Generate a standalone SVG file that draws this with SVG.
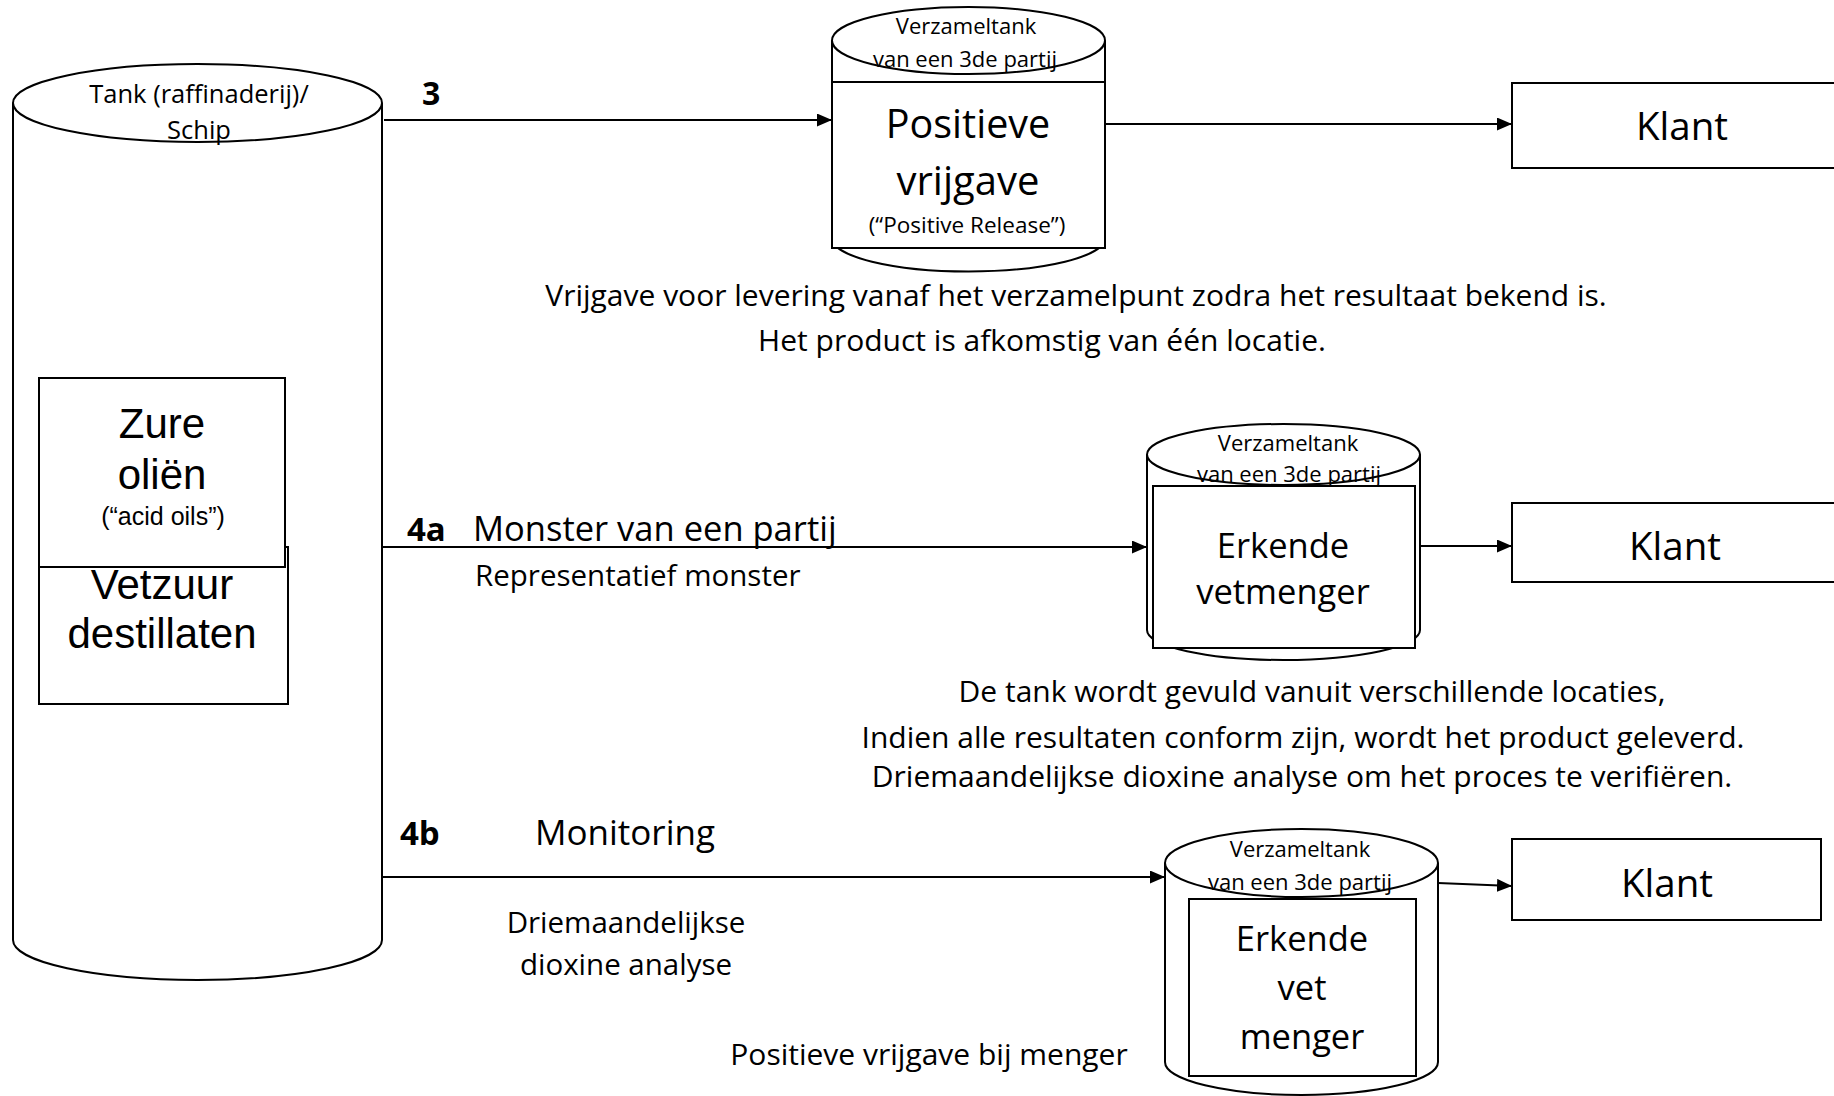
<svg xmlns="http://www.w3.org/2000/svg" width="1834" height="1096" viewBox="0 0 1834 1096">
<defs>
<style>
.s{fill:#fff;stroke:#000;stroke-width:2}
.n{fill:none;stroke:#000;stroke-width:2}
.c{stroke:#000;stroke-width:2;fill:none}
text{font-family:"Open Sans","Noto Sans",sans-serif;fill:#000}
.m{text-anchor:middle}
.b{font-weight:bold}
.ar{font-family:"Liberation Sans",Arial,sans-serif}
</style>
<marker id="ah" markerUnits="userSpaceOnUse" markerWidth="16" markerHeight="14" refX="15" refY="6.5" orient="auto">
<path d="M0,0 L15,6.5 L0,13 Z" fill="#000"/>
</marker>
</defs>
<rect width="1834" height="1096" fill="#fff"/>

<g id="tank-raffinaderij">
<path class="s" d="M13,103 L13,940 A184.5,40 0 0 0 382,940 L382,103"/>
<ellipse class="s" cx="197.5" cy="103" rx="184.5" ry="39"/>
<text class="m" x="199" y="103" font-size="25.5">Tank (raffinaderij)/</text>
<text class="m" x="199" y="139" font-size="25.5">Schip</text>
</g>

<g id="vetzuur-destillaten">
<rect class="s" x="39" y="547" width="249" height="157"/>
<text class="m ar" x="162" y="599" font-size="42">Vetzuur</text>
<text class="m ar" x="162" y="648" font-size="42">destillaten</text>
</g>

<g id="zure-olien">
<rect class="s" x="39" y="378" width="246" height="189"/>
<text class="m ar" x="162" y="438" font-size="42">Zure</text>
<text class="m ar" x="162" y="489" font-size="42">oliën</text>
<text class="m ar" x="163" y="525" font-size="25">(“acid oils”)</text>
</g>

<g id="positieve-vrijgave">
<path class="s" d="M832,40.5 L832,238 A136.5,33.5 0 0 0 1105,238 L1105,40.5"/>
<ellipse class="s" cx="968.5" cy="40.5" rx="136.5" ry="33.5"/>
<text class="m" x="966" y="34" font-size="22">Verzameltank</text>
<text class="m" x="965" y="67" font-size="22">van een 3de partij</text>
<rect class="s" x="832" y="82" width="273" height="166"/>
<text class="m" x="968" y="138" font-size="39.5">Positieve</text>
<text class="m" x="968" y="195" font-size="40">vrijgave</text>
<text class="m" x="967" y="233" font-size="22.5">(“Positive Release”)</text>
</g>

<g id="erkende-vetmenger">
<path class="s" d="M1147,454.5 L1147,630 A136.5,30 0 0 0 1420,630 L1420,454.5"/>
<ellipse class="s" cx="1283.5" cy="454.5" rx="136.5" ry="30.5"/>
<text class="m" x="1288" y="451" font-size="22">Verzameltank</text>
<text class="m" x="1289" y="482" font-size="22">van een 3de partij</text>
<rect class="s" x="1153" y="486" width="262" height="162"/>
<text class="m" x="1283" y="558" font-size="34.5">Erkende</text>
<text class="m" x="1283" y="604" font-size="34.5">vetmenger</text>
</g>

<g id="erkende-vet-menger">
<path class="s" d="M1165,863 L1165,1062 A136.5,33 0 0 0 1438,1062 L1438,863"/>
<ellipse class="s" cx="1301.5" cy="863" rx="136.5" ry="34"/>
<text class="m" x="1300" y="857" font-size="22">Verzameltank</text>
<text class="m" x="1300" y="890" font-size="22">van een 3de partij</text>
<rect class="s" x="1189" y="899" width="227" height="177"/>
<text class="m" x="1302" y="951" font-size="34.5">Erkende</text>
<text class="m" x="1302" y="1000" font-size="34.5">vet</text>
<text class="m" x="1302" y="1049" font-size="34.5">menger</text>
</g>

<g id="klant-1">
<rect class="s" x="1512" y="83" width="340" height="85"/>
<text class="m" x="1682" y="140" font-size="38.5">Klant</text>
</g>
<g id="klant-2">
<rect class="s" x="1512" y="503" width="340" height="79"/>
<text class="m" x="1675" y="560" font-size="38.5">Klant</text>
</g>
<g id="klant-3">
<rect class="s" x="1512" y="839" width="309" height="81"/>
<text class="m" x="1667" y="897" font-size="38.5">Klant</text>
</g>

<g id="connectors">
<line class="c" x1="384" y1="120" x2="832" y2="120" marker-end="url(#ah)"/>
<line class="c" x1="1105" y1="124" x2="1512" y2="124" marker-end="url(#ah)"/>
<line class="c" x1="383" y1="547" x2="1147" y2="547" marker-end="url(#ah)"/>
<line class="c" x1="1420" y1="546" x2="1512" y2="546" marker-end="url(#ah)"/>
<line class="c" x1="383" y1="877" x2="1165" y2="877" marker-end="url(#ah)"/>
<line class="c" x1="1438" y1="883" x2="1512" y2="886" marker-end="url(#ah)"/>
</g>

<g id="labels">
<text class="b" x="422" y="105" font-size="32">3</text>
<text class="b" x="407" y="541" font-size="33">4a</text>
<text x="473" y="541" font-size="34.5">Monster van een partij</text>
<text x="475" y="586" font-size="29.5">Representatief monster</text>
<text class="b" x="400" y="845" font-size="33">4b</text>
<text x="535" y="845" font-size="35">Monitoring</text>
<text class="m" x="626" y="933" font-size="29.5">Driemaandelijkse</text>
<text class="m" x="626" y="975" font-size="29.5">dioxine analyse</text>
<text class="m" x="1076" y="306" font-size="30">Vrijgave voor levering vanaf het verzamelpunt zodra het resultaat bekend is.</text>
<text class="m" x="1042" y="351" font-size="30">Het product is afkomstig van één locatie.</text>
<text class="m" x="1312" y="702" font-size="30">De tank wordt gevuld vanuit verschillende locaties,</text>
<text class="m" x="1303" y="748" font-size="30">Indien alle resultaten conform zijn, wordt het product geleverd.</text>
<text class="m" x="1302" y="787" font-size="30">Driemaandelijkse dioxine analyse om het proces te verifiëren.</text>
<text class="m" x="929" y="1065" font-size="30">Positieve vrijgave bij menger</text>
</g>
</svg>
